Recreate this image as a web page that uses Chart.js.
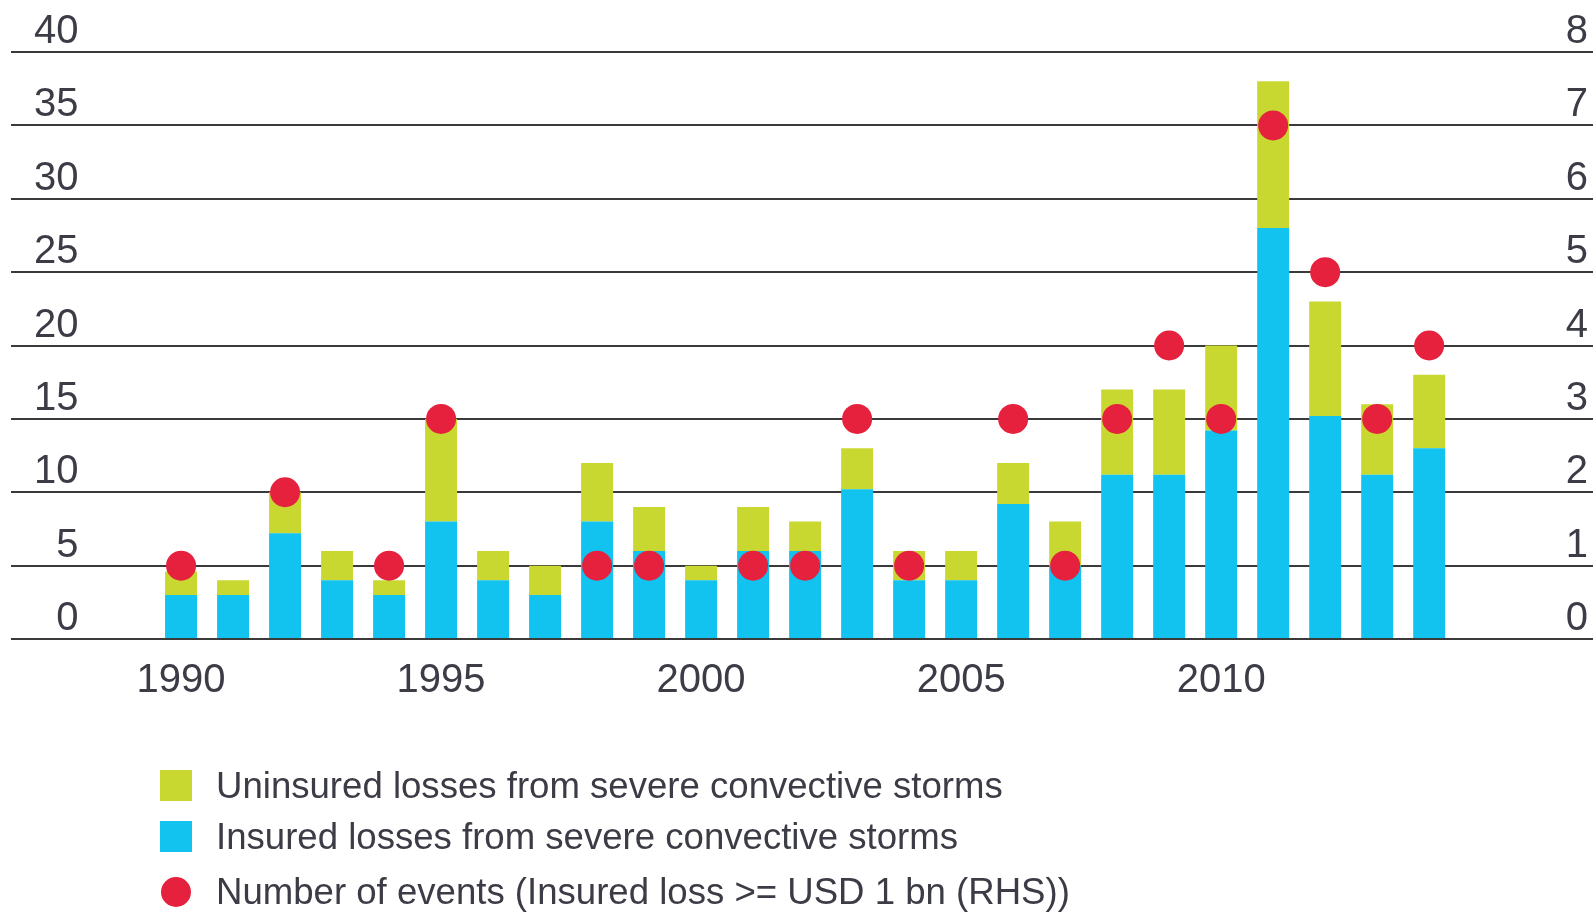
<!DOCTYPE html>
<html>
<head>
<meta charset="utf-8">
<title>Severe convective storm losses</title>
<script src="https://cdn.jsdelivr.net/npm/chart.js@4.4.1/dist/chart.umd.min.js"></script>
<style>

    html, body {
        margin: 0;
        padding: 0;
        background: #ffffff;
        overflow: hidden;
    }

    #wrap {
        position: relative;
        width: 1593px;
        height: 913px;
        overflow: hidden;
    }

    #legend {
        position: absolute;
        left: 160px;
        top: 760px;
        font-family: "Liberation Sans", Arial, sans-serif;
        font-size: 36.6px;
        color: #3c3c46;
    }

    .legend-item {
        display: flex;
        align-items: center;
        height: 51px;
        white-space: nowrap;
    }

    .legend-item:last-child {
        margin-top: 4px;
    }

    .legend-box {
        width: 32px;
        height: 31px;
        margin-right: 24px;
    }

    .legend-dot {
        width: 30px;
        height: 30px;
        border-radius: 50%;
        margin-left: 1px;
        margin-right: 25px;
    }

</style>
</head>
<body>

<div id="wrap">
    <canvas id="stormChart" width="1593" height="913"></canvas>
    <div id="legend"></div>
</div>

<script>

// --------------------------------------------
// Data (USD bn, events on right-hand axis)
// --------------------------------------------

const years = [
    1990, 1991, 1992, 1993, 1994, 1995, 1996, 1997, 1998, 1999,
    2000, 2001, 2002, 2003, 2004, 2005, 2006, 2007, 2008, 2009,
    2010, 2011, 2012, 2013, 2014
];

const insuredLosses = [
    3, 3, 7.2, 4, 3, 8, 4, 3, 8, 6,
    4, 6, 6, 10.2, 4, 4, 9.2, 5, 11.2, 11.2,
    14.2, 28, 15.2, 11.2, 13
];

const uninsuredLosses = [
    1.6, 1, 2.8, 2, 1, 7, 2, 2, 4, 3,
    1, 3, 2, 2.8, 2, 2, 2.8, 3, 5.8, 5.8,
    5.8, 10, 7.8, 4.8, 5
];

const eventCounts = [
    1, null, 2, null, 1, 3, null, null, 1, 1,
    null, 1, 1, 3, 1, null, 3, 1, 3, 4,
    3, 7, 5, 3, 4
];

const yearTicks = [1990, 1995, 2000, 2005, 2010];


// --------------------------------------------
// Colours and fonts
// --------------------------------------------

const BLUE = "#12c2ef";

const GREEN = "#c9d831";

const RED = "#e5213e";

const TEXT = "#3c3c46";

const GRID = "#3a3a3a";

const axisFont = {
    family: "'Liberation Sans', Arial, sans-serif",
    size: 40
};


function toPoints(values) {

    return years.map((year, i) => ({ x: year, y: values[i] }));

}


// y axes draw their labels inside the plot, so they take no width
function zeroWidth(scale) {

    scale.width = 0;

}


// --------------------------------------------
// Chart
// --------------------------------------------

const stormChart = new Chart(

    document.getElementById("stormChart"),

    {

        data: {

            datasets: [

                {
                    type: "bar",
                    label: "Insured losses from severe convective storms",
                    data: toPoints(insuredLosses),
                    backgroundColor: BLUE,
                    barPercentage: 0.615,
                    categoryPercentage: 1,
                    yAxisID: "y",
                    order: 2
                },

                {
                    type: "bar",
                    label: "Uninsured losses from severe convective storms",
                    data: toPoints(uninsuredLosses),
                    backgroundColor: GREEN,
                    barPercentage: 0.615,
                    categoryPercentage: 1,
                    yAxisID: "y",
                    order: 2
                },

                {
                    type: "line",
                    label: "Number of events (Insured loss >= USD 1 bn (RHS))",
                    data: toPoints(eventCounts),
                    showLine: false,
                    pointRadius: 15,
                    pointHoverRadius: 15,
                    pointBorderWidth: 0,
                    pointBackgroundColor: RED,
                    backgroundColor: RED,
                    borderColor: RED,
                    yAxisID: "y2",
                    order: 1
                }

            ]

        },

        options: {

            responsive: false,

            animation: false,

            events: [],

            layout: {
                autoPadding: false,
                padding: { left: 11, right: 0, top: 52, bottom: 214 }
            },

            plugins: {
                legend: { display: false },
                tooltip: { enabled: false }
            },

            scales: {

                x: {
                    type: "linear",
                    stacked: true,
                    offset: false,
                    bounds: "data",
                    min: 1986.73,
                    max: 2017.15,
                    afterBuildTicks: (scale) => {
                        scale.ticks = yearTicks.map(v => ({ value: v }));
                    },
                    afterFit: (scale) => {
                        scale.height = 60;
                        scale.paddingLeft = 0;
                        scale.paddingRight = 0;
                    },
                    ticks: {
                        color: TEXT,
                        font: axisFont,
                        padding: 18,
                        maxRotation: 0,
                        autoSkip: false,
                        callback: (value) => String(value)
                    },
                    grid: { display: false, drawTicks: false, offset: false },
                    border: { display: false }
                },

                y: {
                    position: "left",
                    stacked: true,
                    min: 0,
                    max: 40,
                    afterFit: zeroWidth,
                    ticks: {
                        stepSize: 5,
                        mirror: true,
                        crossAlign: "far",
                        padding: 23,
                        labelOffset: -20,
                        color: TEXT,
                        font: axisFont
                    },
                    grid: {
                        color: GRID,
                        lineWidth: 2,
                        drawTicks: false
                    },
                    border: { display: false }
                },

                y2: {
                    position: "right",
                    min: 0,
                    max: 8,
                    afterFit: zeroWidth,
                    ticks: {
                        stepSize: 1,
                        mirror: true,
                        padding: -5,
                        labelOffset: -20,
                        color: TEXT,
                        font: axisFont
                    },
                    grid: { display: false, drawTicks: false },
                    border: { display: false }
                }

            }

        }

    }

);


// --------------------------------------------
// Legend (stacked list under the plot)
// --------------------------------------------

function buildLegend(chart) {

    const sets = chart.data.datasets;

    const entries = [
        { ds: sets[1], shape: "legend-box" },
        { ds: sets[0], shape: "legend-box" },
        { ds: sets[2], shape: "legend-dot" }
    ];

    const box = document.getElementById("legend");

    entries.forEach(entry => {

        const row = document.createElement("div");
        row.className = "legend-item";

        const mark = document.createElement("span");
        mark.className = entry.shape;
        mark.style.background = entry.ds.backgroundColor;

        const text = document.createElement("span");
        text.textContent = entry.ds.label;

        row.appendChild(mark);
        row.appendChild(text);
        box.appendChild(row);

    });

}

buildLegend(stormChart);

</script>
</body>
</html>
